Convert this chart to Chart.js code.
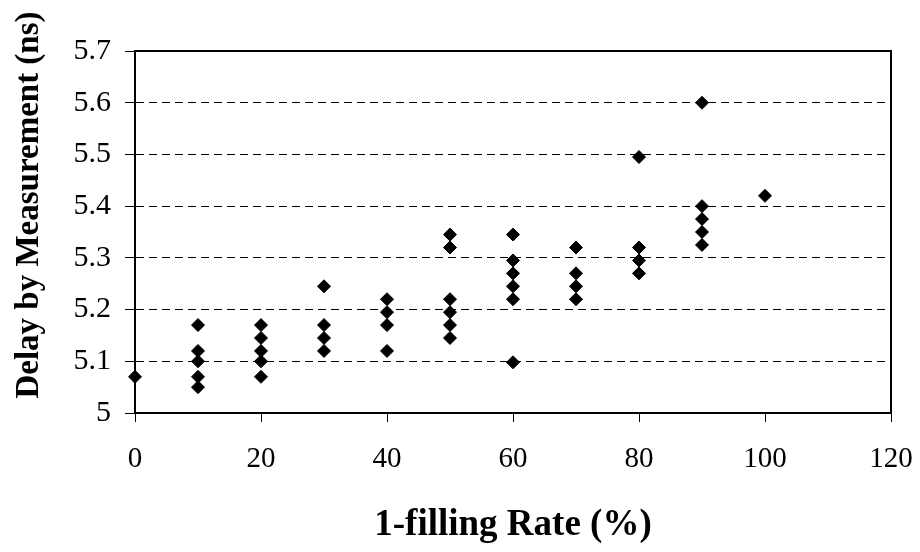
<!DOCTYPE html>
<html>
<head>
<meta charset="utf-8">
<script src="https://cdn.jsdelivr.net/npm/chart.js@4/dist/chart.umd.min.js"></script>
<style>
  html, body { margin: 0; padding: 0; background: #fff; }
  #wrap { width: 920px; height: 552px; }
</style>
</head>
<body>
<div id="wrap"><canvas id="c" width="920" height="552"></canvas></div>
<script>
// 1-filling rate (%) for each measured sample
const fillRates = [
  0,
  10, 10, 10, 10, 10,
  20, 20, 20, 20, 20,
  30, 30, 30, 30,
  40, 40, 40, 40,
  50, 50, 50, 50, 50, 50,
  60, 60, 60, 60, 60, 60,
  70, 70, 70, 70,
  80, 80, 80, 80,
  90, 90, 90, 90, 90,
  100
];

// Measured delay (ns) for each sample, same order as fillRates
const delays = [
  5.07,
  5.17, 5.12, 5.10, 5.07, 5.05,
  5.17, 5.145, 5.12, 5.10, 5.07,
  5.245, 5.17, 5.145, 5.12,
  5.22, 5.195, 5.17, 5.12,
  5.345, 5.32, 5.22, 5.195, 5.17, 5.145,
  5.345, 5.295, 5.27, 5.245, 5.22, 5.098,
  5.32, 5.27, 5.245, 5.22,
  5.495, 5.32, 5.295, 5.27,
  5.60, 5.40, 5.375, 5.35, 5.325,
  5.42
];

const xTicks = [0, 20, 40, 60, 80, 100, 120];
const yTicks = [5, 5.1, 5.2, 5.3, 5.4, 5.5, 5.6, 5.7];

const xTitle = '1-filling Rate (%)';
const yTitle = 'Delay by Measurement (ns)';

const points = fillRates.map((x, i) => ({ x: x, y: delays[i] }));

const serif = '"Liberation Serif", "Times New Roman", Times, serif';

// Solid frame around the plotting area
const frame = {
  id: 'frame',
  beforeDatasetsDraw(chart) {
    const a = chart.chartArea;
    const ctx = chart.ctx;
    ctx.save();
    ctx.strokeStyle = '#000';
    ctx.lineWidth = 2;
    ctx.setLineDash([]);
    ctx.strokeRect(a.left, a.top, a.right - a.left, a.bottom - a.top);
    ctx.restore();
  }
};

// Vertical axis title, set a little above the middle of the axis
const sideTitle = {
  id: 'sideTitle',
  afterDraw(chart) {
    const ctx = chart.ctx;
    const a = chart.chartArea;
    ctx.save();
    ctx.translate(29, a.top + (a.bottom - a.top) / 2 - 27);
    ctx.rotate(-Math.PI / 2);
    ctx.font = 'bold 33px ' + serif;
    ctx.fillStyle = '#000';
    ctx.textAlign = 'center';
    ctx.textBaseline = 'middle';
    ctx.fillText(yTitle, 0, 0);
    ctx.restore();
  }
};

new Chart(document.getElementById('c'), {
  type: 'scatter',
  data: {
    datasets: [{
      data: points,
      pointStyle: 'rectRot',
      pointRadius: 6.5,
      pointHoverRadius: 6.5,
      backgroundColor: '#000',
      borderColor: '#000',
      borderWidth: 1,
      clip: false
    }]
  },
  options: {
    responsive: false,
    devicePixelRatio: 1,
    animation: false,
    layout: { padding: { top: 51, right: 29, bottom: 0, left: 0 } },
    plugins: {
      legend: { display: false },
      tooltip: { enabled: false }
    },
    scales: {
      x: {
        type: 'linear',
        min: 0,
        max: 120,
        afterFit(s) {
          s.height = 139;
          s.paddingLeft = 0;
          s.paddingRight = 0;
        },
        afterBuildTicks(s) { s.ticks = xTicks.map(v => ({ value: v })); },
        grid: {
          drawOnChartArea: false,
          drawTicks: true,
          tickLength: 9,
          tickColor: '#000',
          tickWidth: 1
        },
        border: { display: true, color: '#000', width: 2 },
        ticks: {
          color: '#000',
          padding: 20,
          maxRotation: 0,
          font: { family: serif, size: 29 },
          callback: v => String(v)
        },
        title: {
          display: true,
          text: xTitle,
          color: '#000',
          font: { family: serif, size: 37, weight: 'bold', lineHeight: 1.2 },
          padding: { top: 0, bottom: 4 }
        }
      },
      y: {
        type: 'linear',
        min: 5,
        max: 5.7,
        afterFit(s) {
          s.width = 135;
          s.paddingTop = 0;
          s.paddingBottom = 0;
        },
        afterBuildTicks(s) { s.ticks = yTicks.map(v => ({ value: v })); },
        grid: {
          color: '#000',
          lineWidth: 1,
          drawTicks: true,
          tickLength: 10,
          tickColor: '#000',
          tickWidth: 1,
          tickBorderDash: []
        },
        border: { display: true, color: '#000', width: 2, dash: [8, 5] },
        ticks: {
          color: '#000',
          padding: 14,
          font: { family: serif, size: 30 },
          callback: v => String(Number(v.toFixed(1)))
        },
        title: { display: false }
      }
    }
  },
  plugins: [frame, sideTitle]
});
</script>
</body>
</html>
